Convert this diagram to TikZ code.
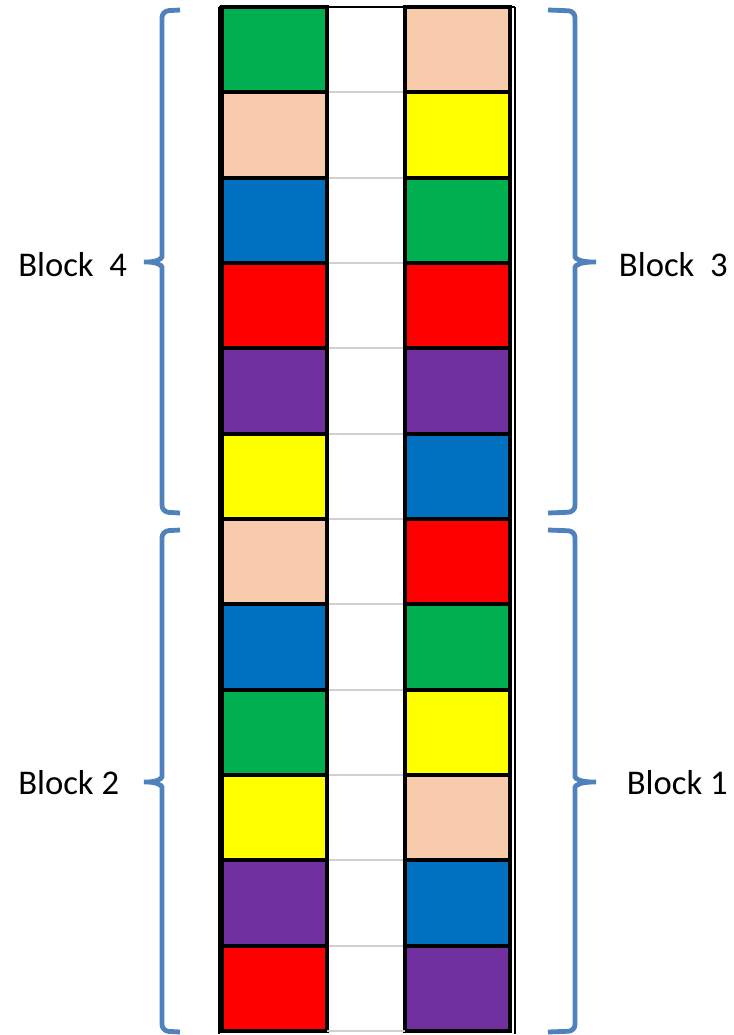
\documentclass[tikz,border=0pt]{standalone}
\usepackage{fontspec}
\setmainfont{Carlito}
\definecolor{cgreen}{HTML}{00B050}
\definecolor{cpeach}{HTML}{F8CBAD}
\definecolor{cyellow}{HTML}{FFFF00}
\definecolor{cblue}{HTML}{0070C0}
\definecolor{cred}{HTML}{FF0000}
\definecolor{cpurple}{HTML}{7030A0}
\definecolor{bracecol}{HTML}{4F81BD}
\definecolor{gridgray}{HTML}{D0D0D0}
\tikzset{
  cell/.style={draw=black,line width=3pt,minimum width=78.75pt,minimum height=64pt,inner sep=0,outer sep=0},
  bracket/.style={draw=bracecol,line width=3.6pt,rounded corners=5pt},
  blocklabel/.style={inner sep=0,font=\fontsize{26}{30}\selectfont}
}
\begin{document}
\begin{tikzpicture}[x=.75pt,y=-.75pt]
\useasboundingbox (0,0) rectangle (733,1035);
% outer frame of the table
\draw[line width=1.2pt] (219,7) -- (219,1034) (515,7) -- (515,1034) (219,7) -- (515,7);
% the twelve rows, left and right
\foreach \lc/\rc [count=\i] in {cgreen/cpeach,cpeach/cyellow,cblue/cgreen,cred/cred,cpurple/cpurple,cyellow/cblue,
    cpeach/cred,cblue/cgreen,cgreen/cyellow,cyellow/cpeach,cpurple/cblue,cred/cpurple}{
  \node[cell,fill=\lc] (l\i) at (274.5,{7+85.33*(\i-.5)}) {};
  \node[cell,fill=\rc] (r\i) at (457.5,{7+85.33*(\i-.5)}) {};
  \draw[gridgray,line width=1.5pt] (l\i.south east) -- (r\i.south west);
}
% brackets
\coordinate (t4) at (140,262);
\coordinate (t2) at (140,782);
\coordinate (t3) at (600,262);
\coordinate (t1) at (600,782);
\draw[bracket] (180,10) -- (162,11) -- (162,250) .. controls (162,259) and (156,262) .. (t4)
  .. controls (156,262) and (162,265) .. (162,274) -- (162,512) -- (180,513);
\draw[bracket] (180,530) -- (162,531) -- (162,770) .. controls (162,779) and (156,782) .. (t2)
  .. controls (156,782) and (162,785) .. (162,794) -- (162,1031) -- (180,1032);
\draw[bracket] (548,10) -- (575,11) -- (575,250) .. controls (575,259) and (581,262) .. (t3)
  .. controls (581,262) and (575,265) .. (575,274) -- (575,512) -- (548,513);
\draw[bracket] (548,530) -- (575,531) -- (575,770) .. controls (575,779) and (581,782) .. (t1)
  .. controls (581,782) and (575,785) .. (575,794) -- (575,1031) -- (548,1032);
\node[blocklabel,anchor=west] (blk4) at (18,265) {Block\ \ 4};
\node[blocklabel,anchor=west] (blk2) at (18,783) {Block 2};
\node[blocklabel,anchor=east] (blk3) at (728,265) {Block\ \ 3};
\node[blocklabel,anchor=east] (blk1) at (728,783) {Block 1};
\end{tikzpicture}
\end{document}
